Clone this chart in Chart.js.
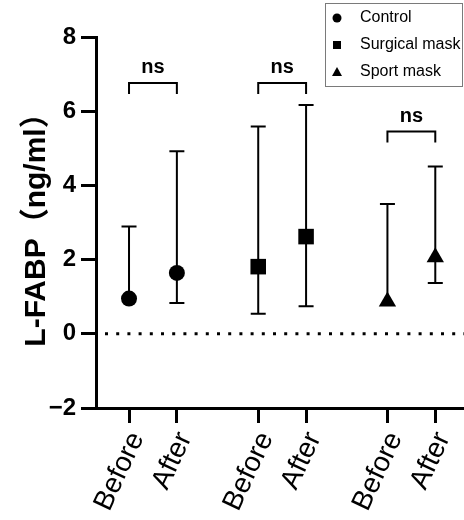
<!DOCTYPE html>
<html><head><meta charset="utf-8">
<script src="https://cdn.jsdelivr.net/npm/chart.js@4/dist/chart.umd.min.js"></script>
<style>html,body{margin:0;padding:0;background:#fff}#wrap{width:464px;height:520px;position:relative}</style>
</head><body><div id="wrap"><canvas id="c"></canvas></div>
<script>
// ---- data ----
const groups = ['Control', 'Surgical mask', 'Sport mask'];
const timeLabels = ['Before', 'After'];
const meanBefore = [0.95, 1.81, 0.87];
const meanAfter = [1.64, 2.62, 2.06];
const upperBefore = [2.89, 5.59, 3.50];
const upperAfter = [4.92, 6.17, 4.51];
const lowerBefore = [null, 0.54, null];   // lower whisker hidden behind marker
const lowerAfter = [0.83, 0.74, 1.37];
const sigLabels = ['ns', 'ns', 'ns'];
const sigHeights = [6.76, 6.76, 5.45];
const yTicks = [-2, 0, 2, 4, 6, 8];

// ---- layout helpers ----
const GROUP_STEP = 2.7;
const pos = (g, i) => 1 + g * GROUP_STEP + i;
const xTickVals = [];
const xTickText = [];
groups.forEach((g, gi) => timeLabels.forEach((t, ti) => { xTickVals.push(pos(gi, ti)); xTickText.push(t); }));
const pointStyles = ['circle', 'rect', 'triangle'];
const pointRadii = [8, 11, 10];
const FONT = "'Liberation Sans', Arial, Helvetica, sans-serif";

const datasets = groups.map((g, gi) => ({
  label: g,
  data: [{x: pos(gi, 0), y: meanBefore[gi]}, {x: pos(gi, 1), y: meanAfter[gi]}],
  pointStyle: pointStyles[gi],
  pointRadius: pointRadii[gi],
  pointHoverRadius: pointRadii[gi],
  backgroundColor: '#000',
  borderColor: '#000',
  borderWidth: 0,
  showLine: false
}));

const decor = {
  id: 'decor',
  beforeDatasetsDraw(chart) {
    const {ctx, scales: {x, y}, chartArea} = chart;
    ctx.save();
    // dotted zero line
    ctx.strokeStyle = '#000';
    ctx.lineWidth = 3;
    ctx.setLineDash([3, 8.2]);
    ctx.beginPath();
    const y0 = y.getPixelForValue(0);
    ctx.moveTo(chartArea.left + 9, y0);
    ctx.lineTo(chartArea.right, y0);
    ctx.stroke();
    ctx.setLineDash([]);
    // error bars
    ctx.lineWidth = 2;
    const cap = 7.5;
    groups.forEach((g, gi) => {
      [[pos(gi,0), meanBefore[gi], lowerBefore[gi], upperBefore[gi]],
       [pos(gi,1), meanAfter[gi], lowerAfter[gi], upperAfter[gi]]].forEach(([xv, m, lo, hi]) => {
        const px = x.getPixelForValue(xv);
        const pm = y.getPixelForValue(m);
        const ph = y.getPixelForValue(hi);
        ctx.beginPath();
        ctx.moveTo(px, ph); ctx.lineTo(px, pm);
        ctx.moveTo(px - cap, ph); ctx.lineTo(px + cap, ph);
        if (lo != null) {
          const pl = y.getPixelForValue(lo);
          ctx.moveTo(px, pm); ctx.lineTo(px, pl);
          ctx.moveTo(px - cap, pl); ctx.lineTo(px + cap, pl);
        }
        ctx.stroke();
      });
      // significance bracket
      const xa = x.getPixelForValue(pos(gi, 0));
      const xb = x.getPixelForValue(pos(gi, 1));
      const yt = y.getPixelForValue(sigHeights[gi]);
      ctx.beginPath();
      ctx.moveTo(xa, yt + 11); ctx.lineTo(xa, yt); ctx.lineTo(xb, yt); ctx.lineTo(xb, yt + 11);
      ctx.stroke();
      ctx.fillStyle = '#000';
      ctx.font = 'bold 20px ' + FONT;
      ctx.textAlign = 'center';
      ctx.textBaseline = 'alphabetic';
      ctx.fillText(sigLabels[gi], (xa + xb) / 2, yt - 10);
    });
    ctx.restore();
  },
  afterDraw(chart) {
    const {ctx} = chart;
    ctx.save();
    ctx.strokeStyle = '#7a7a7a';
    ctx.lineWidth = 1;
    ctx.strokeRect(325.5, 3.5, 137, 83);
    ctx.fillStyle = '#000';
    ctx.font = '16px ' + FONT;
    ctx.textAlign = 'left';
    ctx.textBaseline = 'middle';
    groups.forEach((g, gi) => {
      const cy = 18 + gi * 27;
      const mx = 337;
      ctx.beginPath();
      if (gi === 0) { ctx.arc(mx, cy, 4.5, 0, Math.PI * 2); }
      else if (gi === 1) { ctx.rect(mx - 4, cy - 4, 8, 8); }
      else { ctx.moveTo(mx, cy - 5); ctx.lineTo(mx + 5, cy + 4); ctx.lineTo(mx - 5, cy + 4); ctx.closePath(); }
      ctx.fill();
      ctx.fillText(g, 360, cy);
    });
    ctx.restore();
  }
};

new Chart(document.getElementById('c'), {
  type: 'scatter',
  data: {datasets},
  options: {
    responsive: true,
    maintainAspectRatio: false,
    animation: false,
    layout: {autoPadding: false, padding: {top: 37, right: 0, bottom: 0, left: 0}},
    plugins: {legend: {display: false}, tooltip: {enabled: false}},
    scales: {
      x: {
        type: 'linear', min: 0.31, max: 8.0,
        afterBuildTicks: s => { s.ticks = xTickVals.map(v => ({value: v})); },
        afterFit: s => { s.height = 112; s.paddingLeft = 0; s.paddingRight = 0; },
        border: {display: true, color: '#000', width: 3},
        grid: {drawOnChartArea: false, drawTicks: true, tickLength: 15, lineWidth: 3, color: '#000'},
        ticks: {autoSkip: false, minRotation: 65, maxRotation: 65, color: '#000', padding: 4, labelOffset: 8,
          font: {family: FONT, size: 28},
          callback: (v, i) => xTickText[i]}
      },
      y: {
        min: -2, max: 8,
        afterBuildTicks: s => { s.ticks = yTicks.map(v => ({value: v})); },
        afterFit: s => { s.width = 96; },
        border: {display: true, color: '#000', width: 3},
        grid: {drawOnChartArea: false, drawTicks: true, tickLength: 15, lineWidth: 3, color: '#000'},
        ticks: {color: '#000', padding: 5, font: {family: FONT, size: 24, weight: 'bold'},
          callback: v => String(v).replace('-', '\u2212')},
        title: {display: true, text: 'L-FABP（ng/ml）', color: '#000',
          font: {family: "'Liberation Sans', 'Noto Sans CJK SC', sans-serif", size: 30, weight: 'bold'},
          padding: {top: 19, bottom: 0}}
      }
    }
  },
  plugins: [decor]
});
</script>
</body></html>
